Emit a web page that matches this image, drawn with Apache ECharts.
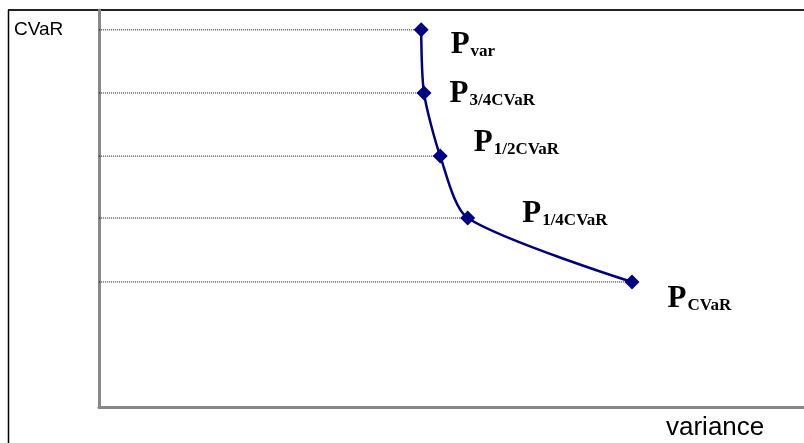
<!DOCTYPE html>
<html>
<head>
<meta charset="utf-8">
<script src="https://cdn.jsdelivr.net/npm/echarts@6/dist/echarts.min.js"></script>
<style>
  html, body { margin: 0; padding: 0; background: #fff; }
  #chart { width: 804px; height: 443px; }
</style>
</head>
<body>
<div id="chart"></div>
<script>
// points on the frontier (arbitrary units)
var pointNames = ['var', '3/4CVaR', '1/2CVaR', '1/4CVaR', 'CVaR'];
var varianceValues = [45.7, 46.1, 48.4, 52.3, 75.6];
var cvarValues = [95.0, 79.1, 63.2, 47.6, 31.5];
// label offsets [dx, dy] from each point
var labelOffsets = [[17, 15], [13, 1], [21, -13], [42, -4], [23, 17]];

var curveData = varianceValues.map(function (v, i) {
    return {
        value: [v, cvarValues[i]],
        label: {
            show: true,
            position: 'right',
            offset: labelOffsets[i],
            formatter: '{p|P}{s|' + pointNames[i] + '}',
            rich: {
                p: { fontFamily: 'Liberation Serif', fontWeight: 'bold', fontSize: 31, lineHeight: 31, color: '#000' },
                s: { fontFamily: 'Liberation Serif', fontWeight: 'bold', fontSize: 17, lineHeight: 17, color: '#000',
                     verticalAlign: 'bottom', padding: [16, 0, 0, 1] }
            }
        }
    };
});

// dotted guide lines from the y axis to each point
var guideSeries = varianceValues.map(function (v, i) {
    return {
        type: 'line',
        data: [[-0.3, cvarValues[i]], [v, cvarValues[i]]],
        symbol: 'none',
        silent: true,
        z: 1,
        lineStyle: { color: '#111', width: 1, type: [1, 1] }
    };
});

var option = {
    animation: false,
    grid: { left: 99, right: 0, top: 10, bottom: 36 },
    xAxis: {
        type: 'value', min: 0, max: 100,
        axisLine: { show: true, lineStyle: { color: '#888', width: 3 } },
        axisTick: { show: false }, axisLabel: { show: false }, splitLine: { show: false }
    },
    yAxis: {
        type: 'value', min: 0, max: 100,
        axisLine: { show: true, lineStyle: { color: '#888', width: 3 } },
        axisTick: { show: false }, axisLabel: { show: false }, splitLine: { show: false }
    },
    graphic: [
        { type: 'line', shape: { x1: 8, y1: 10, x2: 804, y2: 10 }, style: { stroke: '#222', lineWidth: 2 } },
        { type: 'line', shape: { x1: 8.5, y1: 10, x2: 8.5, y2: 443 }, style: { stroke: '#000', lineWidth: 1.5 } },
        { type: 'text', left: 14, top: 20, style: { text: 'CVaR', font: '19px Liberation Sans', fill: '#000' } },
        { type: 'text', left: 666, top: 415, style: { text: 'variance', font: '26px Liberation Sans', fill: '#000' } }
    ],
    series: guideSeries.concat([{
        type: 'line',
        data: curveData,
        smooth: 0.25,
        symbol: 'diamond',
        symbolSize: 15,
        z: 3,
        lineStyle: { color: '#000080', width: 2.5 },
        itemStyle: { color: '#000080' }
    }])
};

var chart = echarts.init(document.getElementById('chart'));
chart.setOption(option);
</script>
</body>
</html>
